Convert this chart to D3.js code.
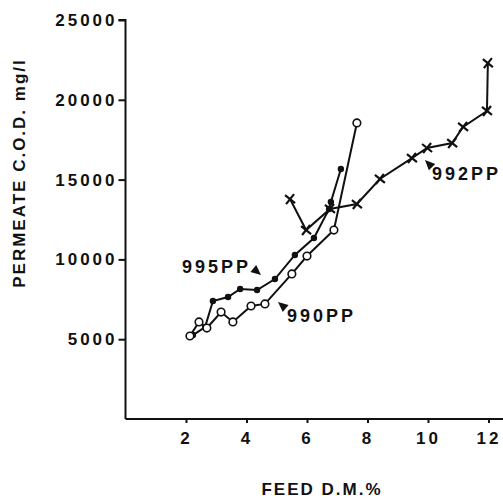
<!DOCTYPE html>
<html>
  <head>
    <script src="https://d3js.org/d3.v7.min.js"></script>
    <style>
      body { margin: 0; background: #fff; }
      text { font-family: "Liberation Sans", Arial, sans-serif; font-weight: bold; fill: #111; }
    </style>
  </head>
  <body>
    <svg width="503" height="498"></svg>
    <script>
      // feed dry matter % and permeate COD (mg/l) for each membrane
      const feed990 = [2.13, 2.43, 2.69, 3.16, 3.55, 4.15, 4.61, 5.50, 6.00, 6.89, 7.65];
      const cod990 = [5200, 6080, 5700, 6700, 6080, 7080, 7210, 9090, 10210, 11840, 18550];

      const feed995 = [2.23, 2.63, 2.89, 3.39, 3.79, 4.35, 4.94, 5.60, 6.23, 6.73, 6.79, 7.12];
      const cod995 = [5260, 5760, 7390, 7640, 8150, 8080, 8770, 10280, 11340, 13160, 13600, 15660];

      const feed992 = [5.44, 5.97, 6.76, 7.65, 8.41, 9.47, 9.97, 10.8, 11.16, 11.95, 11.98];
      const cod992 = [13780, 11840, 13160, 13470, 15040, 16350, 16980, 17290, 18300, 19300, 22300];

      const xTicks = [2, 4, 6, 8, 10, 12];
      const yTicks = [5000, 10000, 15000, 20000, 25000];

      const svg = d3.select("svg");
      const x = d3.scaleLinear().domain([0, 12.5]).range([125.5, 503.6]);
      const y = d3.scaleLinear().domain([0, 25000]).range([419, 20]);

      const toPts = (xs, ys) => xs.map((v, i) => [v, ys[i]]);
      const line = d3.line().x(d => x(d[0])).y(d => y(d[1]));

      // axes
      const yAxis = svg.append("g")
        .attr("transform", "translate(125.5,0)")
        .call(d3.axisLeft(y).tickValues(yTicks).tickFormat(d3.format("d")).tickSize(7).tickPadding(4));
      const xAxis = svg.append("g")
        .attr("transform", "translate(0,419)")
        .call(d3.axisBottom(x).tickValues(xTicks).tickSize(4).tickPadding(9));
      [xAxis, yAxis].forEach(g => {
        g.select(".domain").attr("stroke", "#111").attr("stroke-width", 2);
        g.selectAll(".tick line").attr("stroke", "#111").attr("stroke-width", 2);
        g.selectAll(".tick text").style("font-size", "17px").style("letter-spacing", "3px");
      });
      yAxis.select(".domain").attr("d", "M0,419V20H-7");
      xAxis.select(".domain").attr("d", "M125.5,0H503");
      yAxis.selectAll(".tick text").attr("x", -8);

      // axis titles
      svg.append("text")
        .attr("x", 322).attr("y", 495)
        .attr("text-anchor", "middle")
        .style("font-size", "17px").style("letter-spacing", "2px")
        .text("FEED D.M.%");
      svg.append("text")
        .attr("transform", "translate(25,173) rotate(-90)")
        .attr("text-anchor", "middle")
        .style("font-size", "17px").style("letter-spacing", "2px")
        .text("PERMEATE C.O.D. mg/l");

      // series lines
      const series = [toPts(feed990, cod990), toPts(feed995, cod995), toPts(feed992, cod992)];
      series.forEach(pts => {
        svg.append("path")
          .datum(pts)
          .attr("d", line)
          .attr("fill", "none")
          .attr("stroke", "#111")
          .attr("stroke-width", 2);
      });

      // markers
      svg.append("g").selectAll("circle").data(series[1]).join("circle")
        .attr("cx", d => x(d[0])).attr("cy", d => y(d[1]))
        .attr("r", 3.2).attr("fill", "#111");

      svg.append("g").selectAll("circle").data(series[0]).join("circle")
        .attr("cx", d => x(d[0])).attr("cy", d => y(d[1]))
        .attr("r", 3.8).attr("fill", "#fff").attr("stroke", "#111").attr("stroke-width", 1.6);

      svg.append("g").selectAll("path").data(series[2]).join("path")
        .attr("transform", d => `translate(${x(d[0])},${y(d[1])})`)
        .attr("d", "M-5,-4L5,4M-4,5L4,-5")
        .attr("stroke", "#111").attr("stroke-width", 2.2).attr("fill", "none");

      // series labels with small arrowheads
      function arrow(tx, ty, angle) {
        const a = angle * Math.PI / 180, len = 10, w = 4.5;
        const bx = tx - len * Math.cos(a), by = ty - len * Math.sin(a);
        const px = -Math.sin(a) * w, py = Math.cos(a) * w;
        svg.append("path")
          .attr("d", `M${tx},${ty}L${bx + px},${by + py}L${bx - px},${by - py}Z`)
          .attr("fill", "#111");
      }
      const labels = [
        { name: "995PP", tx: 182, ty: 273, ax: 261, ay: 275, ang: 40 },
        { name: "990PP", tx: 287, ty: 322, ax: 278, ay: 302, ang: -140 },
        { name: "992PP", tx: 432, ty: 180, ax: 425, ay: 160, ang: -135 }
      ];
      labels.forEach(l => {
        svg.append("text")
          .attr("x", l.tx).attr("y", l.ty)
          .style("font-size", "18px").style("letter-spacing", "3px")
          .text(l.name);
        arrow(l.ax, l.ay, l.ang);
      });
    </script>
  </body>
</html>
